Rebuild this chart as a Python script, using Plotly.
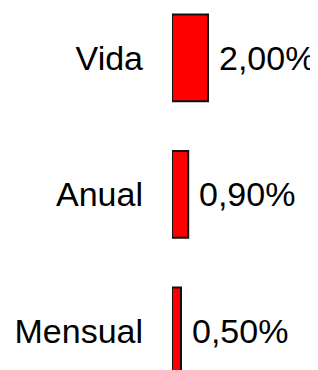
import plotly.graph_objects as go

categories = ["Mensual", "Anual", "Vida"]
values = [0.5, 0.9, 2.0]
value_labels = ["0,50%", "0,90%", "2,00%"]

FONT = dict(family="Liberation Sans, Arial, sans-serif", size=34, color="black")

# page body has an 8px default margin; size the figure so it fits the 318x370 window
W, H = 310, 362
LEFT = 164
PX_PER_PCT = 18.0

fig = go.Figure()
fig.add_trace(go.Bar(
    y=categories,
    x=values,
    orientation="h",
    width=0.636,
    marker=dict(color="#ff0000", line=dict(color="#111111", width=2)),
    hoverinfo="skip",
))

for c, v, lab in zip(categories, values, value_labels):
    fig.add_annotation(x=v, y=c, text=lab, showarrow=False, xanchor="left",
                       yanchor="middle", xshift=9, font=FONT)

fig.update_layout(
    width=W, height=H,
    margin=dict(l=LEFT, r=0, t=0, b=0),
    paper_bgcolor="white", plot_bgcolor="white",
    showlegend=False,
    font=FONT,
    separators=",.",
    xaxis=dict(range=[0, (W - LEFT) / PX_PER_PCT], visible=False, fixedrange=True),
    yaxis=dict(range=[-0.286, 2.366], showgrid=False, zeroline=False, showline=False,
               ticks="", ticklabelstandoff=28, tickfont=FONT, fixedrange=True),
)

fig.write_html("out.html")
